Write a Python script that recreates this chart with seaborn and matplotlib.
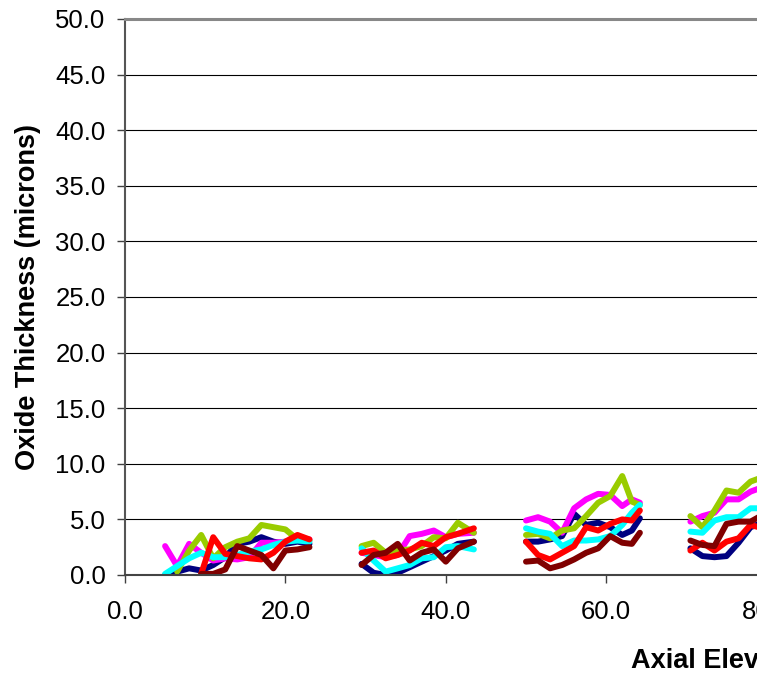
import numpy as np
import pandas as pd
import matplotlib
matplotlib.use("Agg")
import matplotlib.pyplot as plt
import seaborn as sns
from matplotlib.patches import Rectangle

# axial positions (inches) for the four measured spans
x_span1 = [5, 6.5, 8, 9.5, 11, 12.5, 14, 15.5, 17, 18.5, 20, 21.5, 23]
x_span2 = [29.5, 31, 32.5, 34, 35.5, 37, 38.5, 40, 41.5, 43.5]
x_span3 = [50, 51.5, 53, 54.5, 56, 57.5, 59, 60.5, 62, 63.2, 64.2]
x_span4 = [70.5, 72, 73.5, 75, 76.5, 78, 79.5, 81, 82.5, 84]

nan = np.nan
navy_vals = [
    [0.0, 0.3, 0.6, 0.4, 0.9, 1.6, 2.8, 3.0, 3.4, 3.0, 2.8, 3.0, 2.8],
    [1.0, 0.2, 0.0, 0.2, 0.7, 1.2, 1.7, 2.2, 2.8, 3.0],
    [3.0, 3.0, 3.2, 3.5, 5.5, 4.5, 4.7, 4.3, 3.6, 4.0, 5.1],
    [2.4, 1.7, 1.6, 1.7, 2.9, 4.3, 4.7, 4.9, 5.0, 5.2],
]
magenta_vals = [
    [2.6, 0.8, 2.8, 2.0, 1.3, 1.5, 1.4, 1.6, 2.9, 2.9, 3.0, 3.3, 3.2],
    [2.0, 1.8, 1.6, 1.8, 3.5, 3.7, 4.0, 3.4, 3.7, 3.8],
    [4.9, 5.2, 4.8, 3.8, 6.0, 6.8, 7.3, 7.2, 6.2, 6.8, 6.5],
    [4.8, 5.3, 5.6, 6.8, 6.8, 7.5, 7.9, 8.0, 8.2, 8.0],
]
green_vals = [
    [nan, 0.3, 2.2, 3.6, 1.5, 2.5, 3.0, 3.3, 4.5, 4.3, 4.1, 3.2, 3.1],
    [2.6, 2.9, 2.0, 2.2, 2.3, 2.6, 3.4, 3.3, 4.7, 3.8],
    [3.6, 3.7, 3.3, 4.0, 4.2, 5.3, 6.5, 7.1, 8.9, 6.6, 6.3],
    [5.3, 4.3, 5.8, 7.6, 7.4, 8.4, 8.8, 9.0, 8.8, 9.2],
]
cyan_vals = [
    [0.1, 0.8, 1.5, 2.0, 1.6, 1.6, 1.8, 2.1, 2.3, 2.7, 3.0, 3.1, 3.0],
    [2.4, 1.3, 0.3, 0.6, 0.9, 1.5, 1.6, 2.5, 2.6, 2.3],
    [4.2, 3.9, 3.7, 2.6, 3.1, 3.1, 3.2, 3.5, 4.5, 5.6, 6.3],
    [3.9, 3.8, 4.9, 5.2, 5.2, 6.0, 6.0, 6.2, 6.0, 6.3],
]
red_vals = [
    [nan, nan, nan, 0.1, 3.4, 1.9, 1.7, 1.5, 1.4, 2.0, 3.0, 3.6, 3.2],
    [2.0, 2.2, 1.5, 1.8, 2.2, 2.9, 2.6, 3.4, 3.7, 4.2],
    [3.0, 1.8, 1.4, 2.0, 2.6, 4.3, 4.0, 4.6, 5.0, 4.9, 5.8],
    [2.2, 2.9, 2.2, 3.0, 3.3, 4.5, 4.2, 4.6, 5.0, 4.8],
]
darkred_vals = [
    [nan, nan, nan, 0.1, 0.1, 0.5, 2.6, 2.2, 1.8, 0.6, 2.2, 2.3, 2.5],
    [0.9, 1.8, 2.0, 2.8, 1.3, 2.0, 2.3, 1.2, 2.4, 3.0],
    [1.2, 1.3, 0.6, 0.9, 1.4, 2.0, 2.4, 3.5, 2.9, 2.8, 3.8],
    [3.1, 2.7, 2.6, 4.6, 4.8, 4.8, 5.4, 5.1, 5.5, 5.2],
]

series_names = ["s1", "s2", "s3", "s4", "s5", "s6"]
series_colors = ["#000080", "#FF00FF", "#99CC00", "#00FFFF", "#FF0000", "#800000"]
y_ticks = [0, 5, 10, 15, 20, 25, 30, 35, 40, 45, 50]
x_ticks = [0, 20, 40, 60, 80, 100]

# build long table: one row per point, span id used as line units
spans = [x_span1, x_span2, x_span3, x_span4]
all_vals = [navy_vals, magenta_vals, green_vals, cyan_vals, red_vals, darkred_vals]
rows = []
for name, vals in zip(series_names, all_vals):
    for span_id, (xs, ys) in enumerate(zip(spans, vals)):
        for xv, yv in zip(xs, ys):
            rows.append({"x": xv, "y": yv, "series": name, "span": span_id})
df = pd.DataFrame(rows).dropna()

sns.set_style("white")
plt.rcParams["font.family"] = ["Liberation Sans", "DejaVu Sans"]
plt.rcParams["text.color"] = "black"
plt.rcParams["axes.labelcolor"] = "black"
plt.rcParams["xtick.color"] = "black"
plt.rcParams["ytick.color"] = "black"

W, H = 776, 677
fig = plt.figure(figsize=(W / 100, H / 100), dpi=100)
ax = fig.add_axes([125 / W, 102 / H, 802 / W, 556 / H])

ax.yaxis.grid(True, color="black", linewidth=0.8)
ax.set_axisbelow(True)

sns.lineplot(data=df, x="x", y="y", hue="series", units="span", estimator=None,
             hue_order=series_names, palette=series_colors, sort=False,
             linewidth=4.3, legend=False, ax=ax)
for line in ax.get_lines():
    line.set_solid_joinstyle("round")
    line.set_solid_capstyle("round")

ax.set_xlim(0, 100)
ax.set_ylim(0, 50)
ax.set_yticks(y_ticks)
ax.set_xticks(x_ticks)
ax.set_yticklabels([f"{v:.1f}" for v in y_ticks])
ax.set_xticklabels([f"{v:.1f}" for v in x_ticks])
ax.tick_params(axis="both", labelsize=18.5, direction="out", length=6, width=1,
               color="#404040", labelcolor="black")
ax.tick_params(axis="y", pad=8, left=True)
ax.tick_params(axis="x", pad=12, bottom=True)

ax.set_xlabel("")
ax.set_ylabel("Oxide Thickness (microns)", fontsize=19.5, fontweight="bold")
ax.yaxis.set_label_coords(-0.1047, 0.5)

ax.spines["top"].set_color("#888888")
ax.spines["top"].set_linewidth(2.2)
ax.spines["left"].set_color("#555555")
ax.spines["left"].set_linewidth(1.5)
ax.spines["bottom"].set_color("#444444")
ax.spines["bottom"].set_linewidth(1.5)
ax.spines["right"].set_visible(False)

fig.text(631 / W, 9 / H, "Axial Elevation (inches)", fontsize=19.5, fontweight="bold",
         ha="left", va="baseline")

# the source picture is cut off on the right
fig.add_artist(Rectangle((757 / W, 0), 1 - 757 / W, 1, transform=fig.transFigure,
                         facecolor="white", edgecolor="none", zorder=100))

fig.savefig("out.png", dpi=100)
